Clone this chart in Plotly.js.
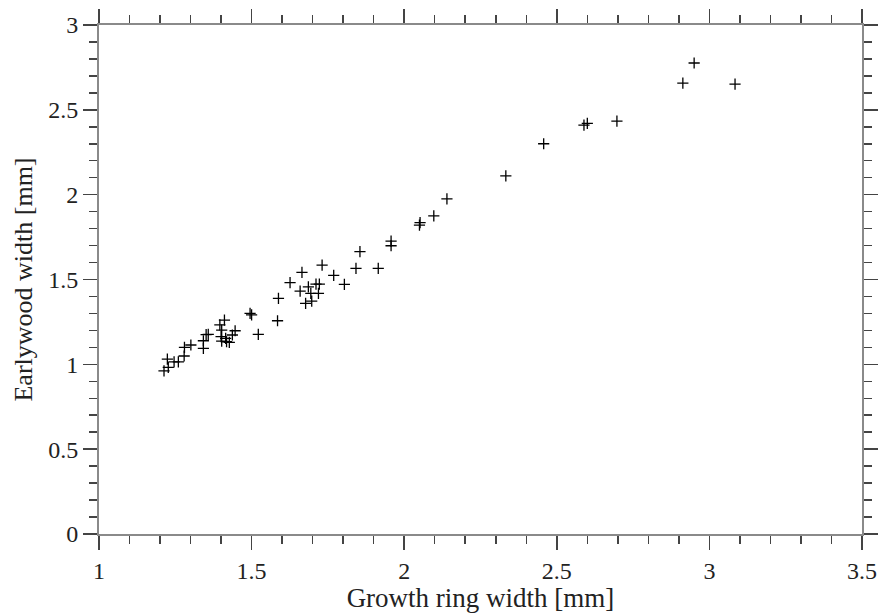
<!DOCTYPE html>
<html>
<head>
<meta charset="utf-8">
<script src="https://cdn.plot.ly/plotly-3.0.1.min.js"></script>
<style>html,body{margin:0;padding:0;background:#fff;}#chart{width:880px;height:613px;}</style>
</head>
<body>
<div id="chart"></div>
<script>
const growthRing = [1.213,1.227,1.224,1.246,1.260,1.279,1.280,1.301,1.342,1.342,1.351,1.358,1.396,1.411,1.402,1.400,1.402,1.415,1.418,1.427,1.437,1.446,1.495,1.500,1.522,1.585,1.588,1.626,1.659,1.665,1.677,1.686,1.694,1.697,1.711,1.719,1.722,1.731,1.769,1.804,1.842,1.855,1.915,1.957,1.957,2.050,2.052,2.097,2.140,2.333,2.457,2.589,2.600,2.697,2.913,2.950,3.084];
const earlywood = [0.961,0.982,1.031,1.015,1.015,1.049,1.100,1.114,1.094,1.139,1.175,1.177,1.232,1.261,1.202,1.163,1.137,1.153,1.133,1.130,1.173,1.198,1.300,1.292,1.177,1.257,1.389,1.481,1.432,1.542,1.359,1.457,1.418,1.373,1.473,1.418,1.473,1.585,1.524,1.471,1.566,1.664,1.566,1.726,1.699,1.820,1.835,1.875,1.975,2.111,2.300,2.410,2.420,2.434,2.658,2.776,2.652];
const xTitle = "Growth ring width [mm]";
const yTitle = "Earlywood width [mm]";

const tickFont = {family: "'Liberation Serif', 'DejaVu Serif', serif", size: 24, color: "#222"};
const xTitleFont = {family: "'Liberation Serif', 'DejaVu Serif', serif", size: 27, color: "#222"};
const yTitleFont = {family: "'Liberation Serif', 'DejaVu Serif', serif", size: 26, color: "#222"};
const axisCommon = {
  showgrid: false, zeroline: false, showline: true,
  linecolor: "#8a8a8a", linewidth: 2, mirror: "allticks",
  ticks: "outside", ticklen: 14, tickwidth: 1.5, tickcolor: "#444",
  tickfont: tickFont,
  minor: {ticks: "outside", ticklen: 8, tickwidth: 1.5, tickcolor: "#444", dtick: 0.1, showgrid: false}
};
const layout = {
  width: 880, height: 613,
  margin: {l: 99, r: 18, t: 25, b: 79},
  paper_bgcolor: "#fff", plot_bgcolor: "#fff",
  showlegend: false,
  font: tickFont,
  xaxis: Object.assign({}, axisCommon, {
    range: [1, 3.5], dtick: 0.5, tick0: 1,
    title: {text: xTitle, font: xTitleFont, standoff: 1}
  }),
  yaxis: Object.assign({}, axisCommon, {
    range: [0, 3], dtick: 0.5, tick0: 0,
    title: {text: yTitle, font: yTitleFont, standoff: 8}
  })
};
const trace = {
  type: "scatter", mode: "markers",
  x: growthRing, y: earlywood,
  marker: {symbol: "cross-thin", size: 8, color: "#000", line: {width: 1.3, color: "#000"}},
  hoverinfo: "skip"
};
Plotly.newPlot("chart", [trace], layout, {staticPlot: true});
</script>
</body>
</html>
